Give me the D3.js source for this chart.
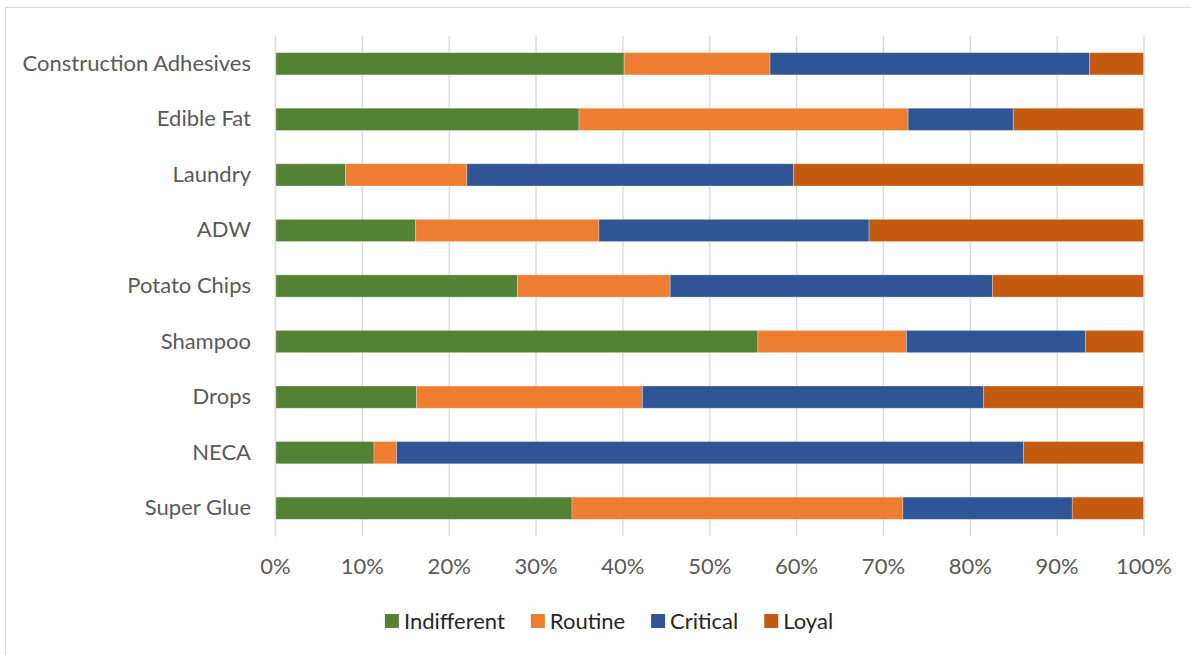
<!DOCTYPE html>
<html>
<head>
<meta charset="utf-8">
<script src="https://cdn.jsdelivr.net/npm/d3@7"></script>
<style>
  body { margin: 0; background: #fff; }
  text { font-family: Lato, "Open Sans", sans-serif; }
</style>
</head>
<body>
<div class="chart"></div>
<script>
// ----Data----
const categories = ["Construction Adhesives", "Edible Fat", "Laundry", "ADW", "Potato Chips",
                    "Shampoo", "Drops", "NECA", "Super Glue"];
const seriesNames = ["Indifferent", "Routine", "Critical", "Loyal"];
const indifferent = [40.2, 35.0,  8.1, 16.2, 27.9, 55.6, 16.3, 11.4, 34.2];
const routine     = [16.8, 37.9, 14.0, 21.1, 17.6, 17.1, 26.0,  2.6, 38.1];
const critical    = [36.8, 12.1, 37.6, 31.1, 37.1, 20.6, 39.3, 72.2, 19.5];
const loyal       = [ 6.2, 15.0, 40.3, 31.6, 17.4,  6.7, 18.4, 13.8,  8.2];
const xTicks = [0, 0.1, 0.2, 0.3, 0.4, 0.5, 0.6, 0.7, 0.8, 0.9, 1];
const colors = ["#548235", "#ED7D31", "#2F5597", "#C55A11"];

// ----Chart Initialization----
const W = 1191, H = 655;
const margin = ({top: 36, right: 47.5, bottom: 119, left: 275});
const width = W - margin.left - margin.right,
      height = H - margin.top - margin.bottom;

const root = d3.select(".chart").append("svg")
    .attr("width", W)
    .attr("height", H);

// chart frame (right and bottom edges fall outside the picture)
root.append("rect")
    .attr("x", 5.5).attr("y", 7.5)
    .attr("width", 1300).attr("height", 800)
    .attr("fill", "none")
    .attr("stroke", "#d9d9d9");

const svg = root.append("g")
    .attr("transform", `translate(${margin.left},${margin.top})`);

const table = categories.map((c, i) => {
    const total = indifferent[i] + routine[i] + critical[i] + loyal[i];
    return {
        category: c,
        Indifferent: indifferent[i] / total,
        Routine: routine[i] / total,
        Critical: critical[i] / total,
        Loyal: loyal[i] / total
    };
});

const stacked = d3.stack().keys(seriesNames)(table);

const xScale = d3.scaleLinear().domain([0, 1]).range([0, width]);
const yScale = d3.scaleBand()
    .domain(categories)
    .range([0, height])
    .paddingInner(0.6)
    .paddingOuter(0.3);

// gridlines
svg.append("g")
    .attr("class", "grid")
    .call(d3.axisBottom(xScale).tickValues(xTicks).tickSize(height).tickFormat(""))
    .call(g => g.select(".domain").remove())
    .call(g => g.selectAll("line").attr("stroke", "#d9d9d9").attr("stroke-width", 1.3));

// bars
svg.selectAll(".series")
    .data(stacked)
    .enter().append("g")
    .attr("class", "series")
    .attr("fill", (d, i) => colors[i])
    .selectAll("rect")
    .data(d => d)
    .enter().append("rect")
    .attr("x", d => xScale(d[0]))
    .attr("y", d => yScale(d.data.category))
    .attr("width", d => xScale(d[1]) - xScale(d[0]))
    .attr("height", yScale.bandwidth())
    .attr("stroke", "#fff")
    .attr("stroke-opacity", 0.35)
    .attr("stroke-width", 0.8);

// x axis
svg.append("g")
    .attr("class", "axis x-axis")
    .attr("transform", `translate(0,${height})`)
    .call(d3.axisBottom(xScale).tickValues(xTicks).tickSize(0).tickPadding(22)
        .tickFormat(d3.format(".0%")))
    .call(g => g.select(".domain").remove())
    .call(g => g.selectAll("text")
        .attr("fill", "#595959")
        .style("font-size", "22px"));

// y axis
svg.append("g")
    .attr("class", "axis y-axis")
    .call(d3.axisLeft(yScale).tickSize(0).tickPadding(24))
    .call(g => g.select(".domain").attr("stroke", "#d9d9d9").attr("stroke-width", 1.3))
    .call(g => g.selectAll("text")
        .attr("fill", "#595959")
        .style("font-size", "22px"));

// legend
const legend = root.append("g").attr("class", "legend");
const items = legend.selectAll("g")
    .data(seriesNames)
    .enter().append("g");

items.append("rect")
    .attr("width", 14).attr("height", 14)
    .attr("y", -7)
    .attr("fill", (d, i) => colors[i]);

items.append("text")
    .attr("x", 19)
    .attr("dy", "0.35em")
    .attr("fill", "#262626")
    .style("font-size", "22px")
    .text(d => d);

let offset = 0;
items.each(function() {
    const g = d3.select(this);
    g.attr("transform", `translate(${offset},0)`);
    offset += 19 + g.select("text").node().getComputedTextLength() + 26;
});
const legendWidth = offset - 26;
legend.attr("transform", `translate(${609 - legendWidth / 2},621)`);
</script>
</body>
</html>
